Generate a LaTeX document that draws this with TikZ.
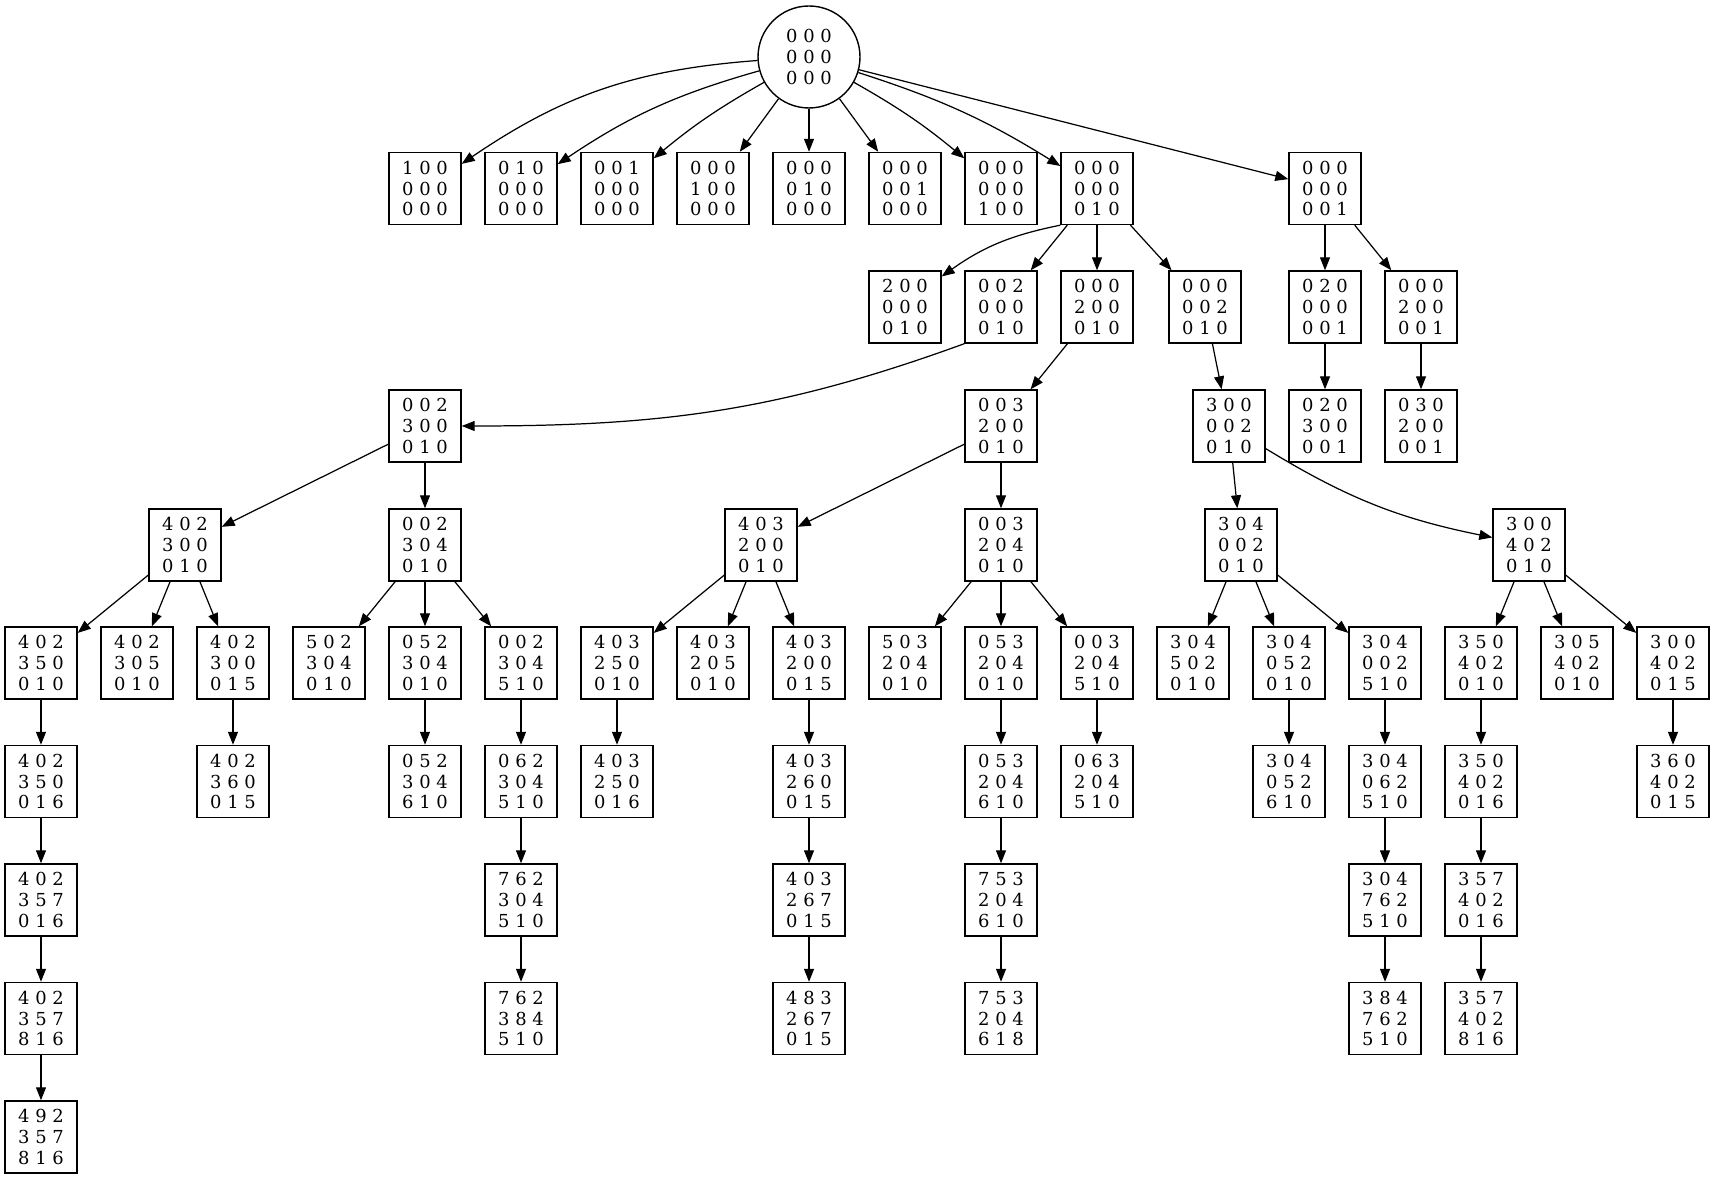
\documentclass[tikz,border=0pt]{standalone}
\usepackage{fontspec}
\setmainfont{DejaVu Serif}
\usetikzlibrary{arrows, arrows.meta}

\begin{document}
\begin{tikzpicture}[
    board/.style={rectangle, draw, line width=0.4pt, inner sep=0pt, minimum width=0.72cm, minimum height=0.72cm, align=center, font=\fontsize{5.1}{5.9}\selectfont},
    start/.style={circle, draw, line width=0.4pt, inner sep=0pt, minimum size=1.02cm, align=center, font=\fontsize{5.1}{5.9}\selectfont},
    >={Triangle[length=1.3mm, width=1mm]},
    every path/.style={line width=0.35pt}
  ]
  \useasboundingbox (0,0) rectangle (17.15,-11.79);

  % empty board
  \node[start] (0) at (8.09,-0.57) {0 0 0\\0 0 0\\0 0 0};

  % first move
  \node[board] (1) at (4.25,-1.885) {1 0 0\\0 0 0\\0 0 0};
  \node[board] (2) at (5.21,-1.885) {0 1 0\\0 0 0\\0 0 0};
  \node[board] (3) at (6.17,-1.885) {0 0 1\\0 0 0\\0 0 0};
  \node[board] (4) at (7.13,-1.885) {0 0 0\\1 0 0\\0 0 0};
  \node[board] (5) at (8.09,-1.885) {0 0 0\\0 1 0\\0 0 0};
  \node[board] (6) at (9.05,-1.885) {0 0 0\\0 0 1\\0 0 0};
  \node[board] (7) at (10.01,-1.885) {0 0 0\\0 0 0\\1 0 0};
  \node[board] (8) at (10.97,-1.885) {0 0 0\\0 0 0\\0 1 0};
  \node[board] (9) at (13.25,-1.885) {0 0 0\\0 0 0\\0 0 1};

  % second move
  \node[board] (10) at (9.05,-3.07) {2 0 0\\0 0 0\\0 1 0};
  \node[board] (11) at (10.01,-3.07) {0 0 2\\0 0 0\\0 1 0};
  \node[board] (12) at (10.97,-3.07) {0 0 0\\2 0 0\\0 1 0};
  \node[board] (13) at (12.05,-3.07) {0 0 0\\0 0 2\\0 1 0};
  \node[board] (14) at (13.25,-3.07) {0 2 0\\0 0 0\\0 0 1};
  \node[board] (15) at (14.21,-3.07) {0 0 0\\2 0 0\\0 0 1};

  % third move
  \node[board] (16) at (4.25,-4.26) {0 0 2\\3 0 0\\0 1 0};
  \node[board] (17) at (10.01,-4.26) {0 0 3\\2 0 0\\0 1 0};
  \node[board] (18) at (12.29,-4.26) {3 0 0\\0 0 2\\0 1 0};
  \node[board] (19) at (13.25,-4.26) {0 2 0\\3 0 0\\0 0 1};
  \node[board] (20) at (14.21,-4.26) {0 3 0\\2 0 0\\0 0 1};

  % fourth move
  \node[board] (21) at (1.85,-5.45) {4 0 2\\3 0 0\\0 1 0};
  \node[board] (22) at (4.25,-5.45) {0 0 2\\3 0 4\\0 1 0};
  \node[board] (23) at (7.61,-5.45) {4 0 3\\2 0 0\\0 1 0};
  \node[board] (24) at (10.01,-5.45) {0 0 3\\2 0 4\\0 1 0};
  \node[board] (25) at (12.41,-5.45) {3 0 4\\0 0 2\\0 1 0};
  \node[board] (26) at (15.29,-5.45) {3 0 0\\4 0 2\\0 1 0};

  % fifth move
  \node[board] (27) at (0.41,-6.63) {4 0 2\\3 5 0\\0 1 0};
  \node[board] (28) at (1.37,-6.63) {4 0 2\\3 0 5\\0 1 0};
  \node[board] (29) at (2.33,-6.63) {4 0 2\\3 0 0\\0 1 5};
  \node[board] (30) at (3.29,-6.63) {5 0 2\\3 0 4\\0 1 0};
  \node[board] (31) at (4.25,-6.63) {0 5 2\\3 0 4\\0 1 0};
  \node[board] (32) at (5.21,-6.63) {0 0 2\\3 0 4\\5 1 0};
  \node[board] (33) at (6.17,-6.63) {4 0 3\\2 5 0\\0 1 0};
  \node[board] (34) at (7.13,-6.63) {4 0 3\\2 0 5\\0 1 0};
  \node[board] (35) at (8.09,-6.63) {4 0 3\\2 0 0\\0 1 5};
  \node[board] (36) at (9.05,-6.63) {5 0 3\\2 0 4\\0 1 0};
  \node[board] (37) at (10.01,-6.63) {0 5 3\\2 0 4\\0 1 0};
  \node[board] (38) at (10.97,-6.63) {0 0 3\\2 0 4\\5 1 0};
  \node[board] (39) at (11.93,-6.63) {3 0 4\\5 0 2\\0 1 0};
  \node[board] (40) at (12.89,-6.63) {3 0 4\\0 5 2\\0 1 0};
  \node[board] (41) at (13.85,-6.63) {3 0 4\\0 0 2\\5 1 0};
  \node[board] (42) at (14.81,-6.63) {3 5 0\\4 0 2\\0 1 0};
  \node[board] (43) at (15.77,-6.63) {3 0 5\\4 0 2\\0 1 0};
  \node[board] (44) at (16.73,-6.63) {3 0 0\\4 0 2\\0 1 5};

  % sixth move
  \node[board] (45) at (0.41,-7.815) {4 0 2\\3 5 0\\0 1 6};
  \node[board] (46) at (2.33,-7.815) {4 0 2\\3 6 0\\0 1 5};
  \node[board] (47) at (4.25,-7.815) {0 5 2\\3 0 4\\6 1 0};
  \node[board] (48) at (5.21,-7.815) {0 6 2\\3 0 4\\5 1 0};
  \node[board] (49) at (6.17,-7.815) {4 0 3\\2 5 0\\0 1 6};
  \node[board] (50) at (8.09,-7.815) {4 0 3\\2 6 0\\0 1 5};
  \node[board] (51) at (10.01,-7.815) {0 5 3\\2 0 4\\6 1 0};
  \node[board] (52) at (10.97,-7.815) {0 6 3\\2 0 4\\5 1 0};
  \node[board] (53) at (12.89,-7.815) {3 0 4\\0 5 2\\6 1 0};
  \node[board] (54) at (13.85,-7.815) {3 0 4\\0 6 2\\5 1 0};
  \node[board] (55) at (14.81,-7.815) {3 5 0\\4 0 2\\0 1 6};
  \node[board] (56) at (16.73,-7.815) {3 6 0\\4 0 2\\0 1 5};

  % seventh move
  \node[board] (57) at (0.41,-9.0) {4 0 2\\3 5 7\\0 1 6};
  \node[board] (58) at (5.21,-9.0) {7 6 2\\3 0 4\\5 1 0};
  \node[board] (59) at (8.09,-9.0) {4 0 3\\2 6 7\\0 1 5};
  \node[board] (60) at (10.01,-9.0) {7 5 3\\2 0 4\\6 1 0};
  \node[board] (61) at (13.85,-9.0) {3 0 4\\7 6 2\\5 1 0};
  \node[board] (62) at (14.81,-9.0) {3 5 7\\4 0 2\\0 1 6};

  % eighth move
  \node[board] (63) at (0.41,-10.185) {4 0 2\\3 5 7\\8 1 6};
  \node[board] (64) at (5.21,-10.185) {7 6 2\\3 8 4\\5 1 0};
  \node[board] (65) at (8.09,-10.185) {4 8 3\\2 6 7\\0 1 5};
  \node[board] (66) at (10.01,-10.185) {7 5 3\\2 0 4\\6 1 8};
  \node[board] (67) at (13.85,-10.185) {3 8 4\\7 6 2\\5 1 0};
  \node[board] (68) at (14.81,-10.185) {3 5 7\\4 0 2\\8 1 6};

  % ninth move
  \node[board] (69) at (0.41,-11.37) {4 9 2\\3 5 7\\8 1 6};

  \draw[->] (0) to[bend right=15] (1);
  \draw[->] (0) to[bend right=9] (2);
  \draw[->] (0) to[bend right=5] (3);
  \draw[->] (0) -- (4);
  \draw[->] (0) -- (5);
  \draw[->] (0) -- (6);
  \draw[->] (0) to[bend left=5] (7);
  \draw[->] (0) to[bend left=7] (8);
  \draw[->] (0) -- (9);

  \draw[->] (8.south west) to[bend right=12] (10);
  \draw[->] (8) -- (11);
  \draw[->] (8) -- (12);
  \draw[->] (8) -- (13);
  \draw[->] (9) -- (14);
  \draw[->] (9) -- (15);

  \draw[->] (11.south west) to[out=200, in=0] (16);
  \draw[->] (12) -- (17);
  \draw[->] (13) -- (18);
  \draw[->] (14) -- (19);
  \draw[->] (15) -- (20);

  \draw[->] (16) -- (21);
  \draw[->] (16) -- (22);
  \draw[->] (17) -- (23);
  \draw[->] (17) -- (24);
  \draw[->] (18) -- (25);
  \draw[->] (18) to[bend right=10] (26);

  \draw[->] (21) -- (27);
  \draw[->] (21) -- (28);
  \draw[->] (21) -- (29);
  \draw[->] (22) -- (30);
  \draw[->] (22) -- (31);
  \draw[->] (22) -- (32);
  \draw[->] (23) -- (33);
  \draw[->] (23) -- (34);
  \draw[->] (23) -- (35);
  \draw[->] (24) -- (36);
  \draw[->] (24) -- (37);
  \draw[->] (24) -- (38);
  \draw[->] (25) -- (39);
  \draw[->] (25) -- (40);
  \draw[->] (25) -- (41);
  \draw[->] (26) -- (42);
  \draw[->] (26) -- (43);
  \draw[->] (26) -- (44);

  \draw[->] (27) -- (45);
  \draw[->] (29) -- (46);
  \draw[->] (31) -- (47);
  \draw[->] (32) -- (48);
  \draw[->] (33) -- (49);
  \draw[->] (35) -- (50);
  \draw[->] (37) -- (51);
  \draw[->] (38) -- (52);
  \draw[->] (40) -- (53);
  \draw[->] (41) -- (54);
  \draw[->] (42) -- (55);
  \draw[->] (44) -- (56);

  \draw[->] (45) -- (57);
  \draw[->] (48) -- (58);
  \draw[->] (50) -- (59);
  \draw[->] (51) -- (60);
  \draw[->] (54) -- (61);
  \draw[->] (55) -- (62);

  \draw[->] (57) -- (63);
  \draw[->] (58) -- (64);
  \draw[->] (59) -- (65);
  \draw[->] (60) -- (66);
  \draw[->] (61) -- (67);
  \draw[->] (62) -- (68);

  \draw[->] (63) -- (69);
\end{tikzpicture}
\end{document}
